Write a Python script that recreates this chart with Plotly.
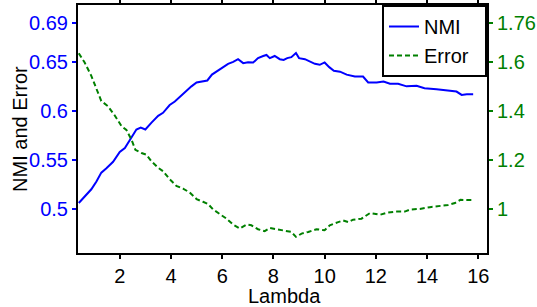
import plotly.graph_objects as go

lambda_nmi = [0.40, 0.63, 0.89, 1.09, 1.28, 1.48, 1.74, 2.00, 2.20, 2.39, 2.65, 2.82, 3.00, 3.24, 3.50,
              3.69, 3.95, 4.15, 4.41, 4.60, 4.80, 5.00, 5.25, 5.42, 5.60, 5.78, 6.03, 6.23, 6.43, 6.62,
              6.82, 7.01, 7.21, 7.40, 7.60, 7.73, 7.86, 8.05, 8.25, 8.40, 8.54, 8.70, 8.88, 9.00, 9.23,
              9.42, 9.62, 9.81, 10.00, 10.18, 10.36, 10.60, 10.86, 11.18, 11.50, 11.70, 12.03, 12.30,
              12.55, 12.87, 13.20, 13.59, 13.90, 14.37, 14.70, 14.90, 15.15, 15.35, 15.55, 15.80]
nmi = [0.506, 0.5126, 0.520, 0.528, 0.537, 0.5415, 0.548, 0.558, 0.562, 0.570, 0.581, 0.583, 0.581, 0.588,
       0.595, 0.598, 0.606, 0.6095, 0.616, 0.620, 0.625, 0.629, 0.630, 0.631, 0.637, 0.640, 0.6446, 0.648,
       0.650, 0.6527, 0.6487, 0.6497, 0.6493, 0.6538, 0.656, 0.657, 0.6538, 0.656, 0.6527, 0.652, 0.6538,
       0.6548, 0.659, 0.6538, 0.6527, 0.650, 0.648, 0.647, 0.6494, 0.6446, 0.641, 0.640, 0.637, 0.635,
       0.635, 0.629, 0.629, 0.630, 0.6276, 0.6276, 0.625, 0.6255, 0.623, 0.622, 0.621, 0.6197, 0.6197,
       0.6163, 0.617, 0.617]

lambda_err = [0.40, 0.63, 0.89, 1.09, 1.28, 1.54, 1.80, 2.07, 2.26, 2.46, 2.61, 2.85, 3.04, 3.24, 3.50,
              3.69, 3.95, 4.21, 4.47, 4.73, 5.00, 5.25, 5.45, 5.64, 5.90, 6.17, 6.43, 6.69, 6.95, 7.14,
              7.40, 7.66, 7.86, 8.12, 8.44, 8.70, 8.88, 9.10, 9.36, 9.68, 10.00, 10.20, 10.53, 10.72,
              10.92, 11.11, 11.44, 11.77, 12.16, 12.42, 12.81, 13.13, 13.33, 13.72, 14.11, 14.50, 14.82,
              15.09, 15.30, 15.55, 15.80]
err = [1.635, 1.597, 1.543, 1.490, 1.440, 1.419, 1.382, 1.338, 1.322, 1.282, 1.241, 1.228, 1.221, 1.194,
       1.168, 1.154, 1.121, 1.094, 1.083, 1.067, 1.040, 1.029, 1.020, 0.998, 0.980, 0.960, 0.936, 0.920,
       0.936, 0.933, 0.917, 0.909, 0.922, 0.917, 0.913, 0.906, 0.886, 0.899, 0.906, 0.917, 0.913, 0.933,
       0.946, 0.953, 0.946, 0.956, 0.960, 0.983, 0.976, 0.984, 0.989, 0.989, 0.997, 1.000, 1.007, 1.011,
       1.016, 1.024, 1.037, 1.036, 1.036]

x_ticks = [2, 4, 6, 8, 10, 12, 14, 16]
left_ticks = [0.5, 0.55, 0.6, 0.65, 0.69]
left_labels = ["0.5", "0.55", "0.6", "0.65", "0.69"]
right_ticks = [1, 1.2, 1.4, 1.6, 1.76]
right_labels = ["1", "1.2", "1.4", "1.6", "1.76"]

BLUE = "#0000FF"
GREEN = "#008000"
FONT = "Liberation Sans, Arial, sans-serif"
FS = 20
PAD = "\u00a0\u00a0"

fig = go.Figure()
fig.add_trace(go.Scatter(x=lambda_nmi, y=nmi, mode="lines", name="NMI" + PAD,
                         line=dict(color=BLUE, width=2)))
fig.add_trace(go.Scatter(x=lambda_err, y=err, mode="lines", name="Error" + PAD, yaxis="y2",
                         line=dict(color=GREEN, width=2, dash="5px,3px")))

fig.update_layout(
    width=537, height=307,
    margin=dict(l=78, r=50, t=5, b=54, autoexpand=False),
    paper_bgcolor="white", plot_bgcolor="white",
    font=dict(family=FONT, size=FS, color="black"),
    showlegend=True,
    legend=dict(x=1, y=1, xanchor="right", yanchor="top",
                bordercolor="black", borderwidth=2, bgcolor="white",
                font=dict(size=FS, color="black"), tracegroupgap=0, itemwidth=30),
    xaxis=dict(range=[0.37, 16.34], tickvals=x_ticks, ticks="outside", ticklen=4,
               tickwidth=1.5, tickcolor="black", showline=True, linecolor="black", linewidth=2,
               mirror="ticks", showgrid=False, zeroline=False,
               tickfont=dict(size=FS, color="black")),
    yaxis=dict(range=[0.455, 0.708], tickvals=left_ticks, ticktext=left_labels,
               ticks="outside", ticklen=4, tickwidth=1.5, tickcolor=BLUE,
               showline=True, linecolor="black", linewidth=2, mirror=True,
               showgrid=False, zeroline=False,
               tickfont=dict(size=FS, color=BLUE)),
    yaxis2=dict(range=[0.82, 1.832], tickvals=right_ticks, ticktext=right_labels,
                overlaying="y", side="right", ticks="outside", ticklen=4, tickwidth=1.5,
                tickcolor=GREEN, showline=True, linecolor="black", linewidth=2,
                showgrid=False, zeroline=False,
                tickfont=dict(size=FS, color=GREEN)),
    annotations=[
        dict(text="NMI and Error", xref="paper", yref="paper",
             x=-0.142, y=0.5, xanchor="center", yanchor="middle",
             textangle=-90, showarrow=False,
             font=dict(family=FONT, size=FS, color="black")),
        dict(text="Lambda", xref="paper", yref="paper",
             x=0.506, y=-0.174, xanchor="center", yanchor="middle",
             showarrow=False, font=dict(family=FONT, size=FS, color="black")),
    ],
)

fig.write_html("out.html", config={"displayModeBar": False},
               post_script="document.body.style.margin='0';document.body.style.padding='0';")
